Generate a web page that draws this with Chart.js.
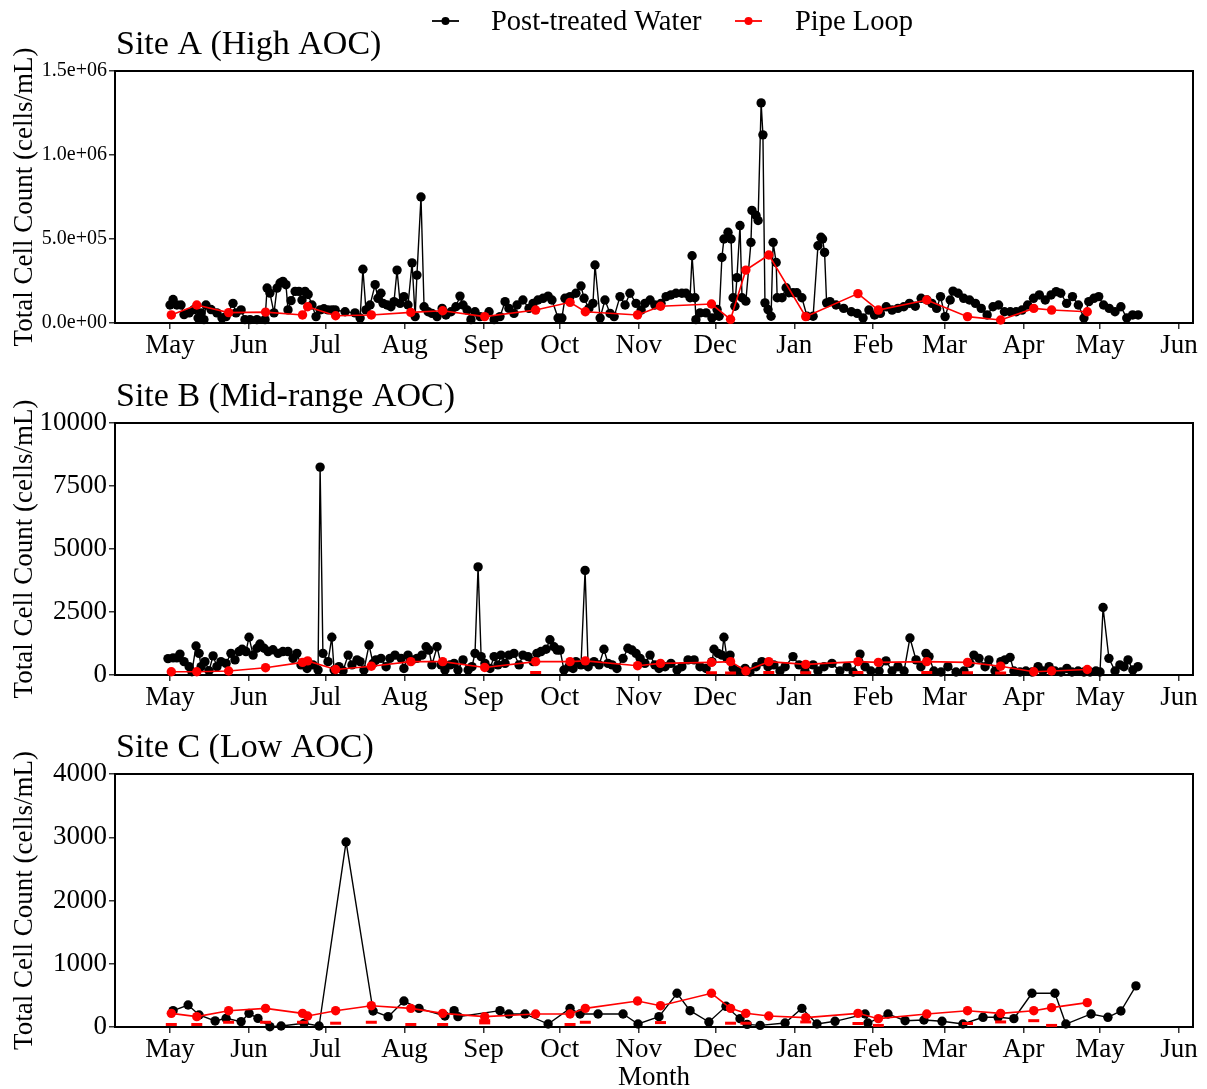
<!DOCTYPE html>
<html>
<head>
<meta charset="utf-8">
<script src="https://cdn.jsdelivr.net/npm/chart.js@4.4.1/dist/chart.umd.min.js"></script>
<style>
  body { margin: 0; background: #fff; }
  #wrap { position: relative; width: 1207px; height: 1089px; }
  canvas { position: absolute; left: 0; }
</style>
</head>
<body>
<div id="wrap">
  <canvas id="siteA" width="1207" height="362" style="top:0"></canvas>
  <canvas id="siteB" width="1207" height="353" style="top:362px"></canvas>
  <canvas id="siteC" width="1207" height="374" style="top:715px"></canvas>
</div>
<script>
// x values are days counted from 1 May
const monthDays = [0, 31, 61, 92, 123, 153, 184, 214, 245, 276, 304, 335, 365, 396];
const monthLabels = ["May", "Jun", "Jul", "Aug", "Sep", "Oct", "Nov", "Dec", "Jan", "Feb", "Mar", "Apr", "May", "Jun"];

// pipe loop sampling days (same for every site)
const loopDays = [0.5, 10.5, 23, 37.5, 52, 54, 65, 79, 94.5, 107, 123.5, 143.5, 157, 163, 183.5, 192.5,
  212.5, 220, 226, 235, 249.5, 270, 278, 297, 313, 326, 339, 346, 360];
const siteALoop = [48e3, 107e3, 62e3, 65e3, 48e3, 97e3, 43e3, 48e3, 63e3, 73e3, 38e3, 77e3, 123e3, 67e3, 48e3, 100e3,
  113e3, 22e3, 315e3, 405e3, 38e3, 175e3, 77e3, 137e3, 38e3, 18e3, 87e3, 77e3, 67e3];
const siteBLoop = [130, 130, 160, 290, 500, 560, 220, 350, 530, 530, 300, 530, 530, 560, 370, 460,
  500, 530, 160, 530, 420, 530, 500, 530, 500, 350, 130, 160, 220];
const siteCLoop = [216, 164, 258, 295, 216, 174, 258, 337, 295, 216, 164, 206, 206, 295, 411, 337,
  533, 295, 216, 174, 148, 216, 132, 206, 258, 216, 258, 306, 385];

// lower pipe loop marks near zero
const siteBLoopLow = [[143.5, 100], [212.5, 90], [220, 80], [235, 100], [249.5, 90], [270, 100], [297, 100], [313, 90], [326, 80]];
const siteCLoopLow = [[0.5, 40], [10.5, 40], [23, 75], [37.5, 75], [52, 75], [65, 60], [79, 75], [94.5, 40], [107, 40],
  [123.5, 65], [123.5, 100], [157, 40], [163, 75], [192.5, 70], [220, 60], [226, 60], [249.5, 80], [270, 55], [278, 25],
  [313, 55], [326, 80], [339, 100], [346, 25]];

// post-treated water, [day, cells/mL]
const siteAWater = [
  [0, 107e3], [1.2, 140e3], [2.7, 107e3], [4.3, 107e3], [5.5, 50e3], [7.5, 60e3], [9.4, 80e3], [11, 30e3], [12.2, 60e3],
  [13.3, 20e3], [14.1, 107e3], [16.1, 80e3], [18.4, 60e3], [20.4, 30e3], [22, 38e3], [24.7, 117e3], [25.9, 60e3],
  [27.9, 78e3], [29.4, 20e3], [31.4, 20e3], [34.1, 20e3], [37.3, 20e3], [38.1, 208e3], [39.2, 178e3], [40.8, 60e3],
  [42, 208e3], [43.2, 238e3], [44.3, 248e3], [45.5, 228e3], [46.3, 78e3], [47.5, 133e3], [49.1, 188e3], [50.6, 188e3],
  [51.8, 137e3], [53, 188e3], [54.2, 170e3], [55.7, 107e3], [57.3, 38e3], [58.9, 78e3], [60.4, 85e3], [62, 78e3],
  [63.6, 78e3], [64.8, 78e3], [68.7, 67e3], [72.6, 60e3], [74.6, 30e3], [75.7, 320e3], [76.9, 78e3], [78.5, 107e3],
  [80.5, 228e3], [81.6, 147e3], [82.8, 177e3], [83.6, 117e3], [85.2, 107e3], [86.7, 97e3], [87.9, 127e3], [89.1, 315e3],
  [90.3, 117e3], [91.8, 157e3], [93.4, 107e3], [95, 358e3], [96.2, 38e3], [96.9, 285e3], [98.5, 750e3], [99.7, 97e3],
  [101.3, 67e3], [102.8, 57e3], [104.8, 38e3], [106.8, 87e3], [108.3, 48e3], [110.3, 67e3], [112.2, 97e3], [113.8, 160e3],
  [115, 107e3], [116.6, 77e3], [118.1, 20e3], [119.7, 67e3], [121.7, 38e3], [125.2, 67e3], [127.2, 20e3], [129.5, 38e3],
  [131.5, 127e3], [133, 87e3], [135, 57e3], [136.2, 107e3], [138.5, 137e3], [140.9, 87e3], [142.5, 117e3], [144.4, 137e3],
  [146.4, 147e3], [148.4, 160e3], [149.9, 137e3], [152.3, 30e3], [153.8, 30e3], [155, 147e3], [157, 157e3], [159.3, 177e3],
  [161.3, 220e3], [162.5, 147e3], [164.4, 87e3], [166, 117e3], [166.8, 345e3], [168.8, 30e3], [170.7, 137e3], [172.7, 57e3],
  [174.3, 38e3], [176.6, 157e3], [178.6, 107e3], [180.5, 177e3], [182.9, 117e3], [184.9, 77e3], [186.4, 117e3],
  [188.4, 137e3], [190.3, 107e3], [192.7, 117e3], [194.7, 157e3], [196.6, 167e3], [198.6, 177e3], [200.9, 177e3],
  [202.5, 177e3], [204.1, 150e3], [204.9, 400e3], [206, 150e3], [206.4, 20e3], [208, 60e3], [210.4, 60e3], [212.7, 30e3],
  [214.7, 80e3], [215.5, 40e3], [216.6, 390e3], [217.4, 500e3], [219, 540e3], [220.2, 500e3], [221, 150e3], [221.7, 100e3],
  [222.5, 270e3], [223.7, 580e3], [224.5, 150e3], [226, 130e3], [228, 480e3], [228.4, 670e3], [230, 640e3], [230.8, 610e3],
  [232, 1310e3], [232.7, 1120e3], [233.5, 120e3], [234.7, 80e3], [235.9, 40e3], [236.7, 480e3], [237.9, 360e3],
  [238.3, 150e3], [240.2, 150e3], [241.8, 210e3], [242.9, 180e3], [244.5, 180e3], [246, 180e3], [248, 150e3], [250, 40e3],
  [252.4, 40e3], [254.3, 460e3], [255.5, 510e3], [256.1, 500e3], [256.9, 420e3], [257.7, 120e3], [259, 127e3],
  [261.4, 107e3], [264.4, 87e3], [267.4, 67e3], [269.7, 57e3], [272, 30e3], [274.3, 77e3], [276.5, 48e3], [278.8, 57e3],
  [281.1, 97e3], [283.4, 77e3], [285.7, 87e3], [288, 97e3], [290.2, 117e3], [292.5, 100e3], [294.8, 147e3], [297.1, 137e3],
  [299, 117e3], [300.9, 87e3], [302.4, 157e3], [304.2, 38e3], [306.2, 137e3], [307.3, 190e3], [309.3, 177e3],
  [311.5, 147e3], [313.8, 137e3], [316.1, 117e3], [318.4, 87e3], [320.7, 48e3], [323, 97e3], [325.2, 107e3], [327.5, 67e3],
  [329.8, 67e3], [332.1, 67e3], [334.4, 77e3], [336.6, 107e3], [338.9, 147e3], [341.2, 167e3], [343.5, 137e3],
  [345.8, 167e3], [347.8, 187e3], [349.6, 177e3], [351.9, 117e3], [354.2, 157e3], [356.5, 107e3], [358.7, 30e3],
  [360.6, 127e3], [362.6, 147e3], [364.5, 157e3], [366.4, 107e3], [368.6, 87e3], [370.9, 67e3], [373.2, 97e3],
  [375.5, 30e3], [377.8, 48e3], [380, 48e3]
];

const siteBWater = [
  [-0.8, 650], [1.2, 680], [2.7, 680], [3.9, 830], [5.5, 530], [7.5, 330], [8.6, 130], [10.2, 1150], [11.4, 860], [12.2, 330],
  [13.7, 530], [15.3, 170], [16.9, 760], [18.4, 330], [20, 530], [22, 460], [23.9, 860], [25.5, 600], [27.1, 930],
  [28.3, 1020], [29.8, 930], [31, 1500], [32.6, 790], [34.1, 1060], [35.3, 1230], [36.9, 1060], [38.5, 930], [40.4, 1000],
  [42.4, 860], [44.3, 930], [46.3, 930], [48.3, 660], [49.8, 860], [51.4, 400], [53.8, 260], [56.1, 400], [58.1, 200],
  [58.9, 8250], [60, 860], [62, 530], [63.5, 1500], [64.4, 200], [66.3, 330], [67.9, 170], [69.9, 790], [71.4, 400],
  [73.4, 600], [74.6, 530], [76.1, 200], [78.1, 1190], [79.7, 460], [80.8, 600], [82.8, 660], [84.8, 330], [86.3, 660],
  [88.3, 790], [90.7, 660], [91.8, 260], [93.4, 790], [95, 600], [96.9, 660], [98.9, 790], [100.5, 1120], [101.6, 990],
  [102.8, 400], [104.8, 1120], [106.4, 400], [107.9, 200], [109.9, 400], [111.5, 460], [113, 200], [115, 600], [117, 200],
  [118.5, 330], [119.7, 860], [120.9, 4290], [122.1, 730], [123.6, 460], [125.6, 260], [127.2, 730], [128.7, 400],
  [129.9, 790], [131.5, 460], [133, 790], [135, 860], [137, 400], [138.5, 790], [140.5, 730], [142.5, 530], [144, 860],
  [145.6, 930], [147.6, 1020], [149.1, 1400], [150.7, 1120], [151.9, 990], [153.1, 990], [154.6, 200], [156.6, 330],
  [158.2, 260], [159.3, 530], [161.3, 400], [162.9, 4150], [164.1, 330], [166.4, 530], [168.4, 400], [170.3, 1020],
  [171.9, 460], [173.5, 400], [175.4, 260], [177.8, 660], [179.7, 1060], [181.3, 990], [182.9, 860], [184.5, 660],
  [186.4, 460], [188.4, 790], [190.3, 400], [191.9, 260], [194.3, 330], [196.6, 460], [199, 200], [200.9, 330], [203.3, 600],
  [205.7, 600], [208, 330], [210.4, 260], [212.7, 530], [213.5, 1020], [215.1, 860], [216.6, 790], [217.4, 1500],
  [218.6, 660], [219.8, 790], [221, 260], [223.3, 150], [225.7, 260], [227.6, 120], [230, 330], [232.3, 530], [234.7, 330],
  [237, 400], [239.4, 160], [241.4, 330], [244.5, 730], [246.9, 400], [249.2, 160], [252.4, 400], [254.3, 160],
  [256.7, 330], [259.8, 460], [262.9, 160], [265.7, 330], [268.1, 120], [270.8, 830], [272.8, 330], [275.1, 160],
  [278.3, 160], [281, 560], [283.4, 160], [285.7, 330], [288.1, 160], [290.4, 1470], [292.8, 600], [294.7, 330],
  [296.7, 860], [297.9, 730], [299.8, 160], [302.6, 120], [305.3, 330], [308.5, 120], [311.6, 160], [314, 460],
  [315.5, 790], [317.5, 660], [319.9, 330], [321.4, 600], [323.8, 160], [326.1, 530], [327.7, 600], [329.7, 700],
  [331.2, 160], [333.6, 120], [335.9, 160], [338.3, 120], [340.7, 330], [342.6, 160], [345, 330], [347.3, 160],
  [349.7, 120], [352, 260], [354, 120], [356.4, 160], [358.7, 120], [361.1, 120], [363.4, 160], [365, 120], [366.2, 2680],
  [368.5, 660], [370.9, 160], [372.8, 400], [374.4, 330], [376, 600], [377.9, 200], [379.9, 330]
];

const siteCWater = [
  [1.2, 258], [7.1, 348], [11.4, 190], [17.7, 96], [22, 137], [27.9, 85], [31, 216], [34.5, 137], [39.2, 5], [43.6, 16],
  [52.6, 58], [58.5, 16], [69.1, 2925], [79.7, 253], [85.6, 164], [91.8, 411], [97.7, 295], [107.9, 174], [111.5, 258],
  [113, 164], [129.5, 258], [133, 206], [139.3, 206], [148.4, 47], [157, 295], [160.9, 206], [168, 206], [177.8, 206],
  [183.7, 47], [191.9, 164], [199, 533], [204.1, 258], [211.5, 79], [218.2, 327], [223.7, 132], [226.5, 42], [231.6, 26],
  [241.4, 63], [248, 295], [253.9, 47], [261, 90], [272.8, 206], [273.9, 63], [281.8, 206], [288.5, 100], [295.9, 111],
  [303, 90], [311.2, 47], [319.1, 153], [325, 153], [331.2, 132], [338.3, 533], [347.3, 533], [351.6, 47], [361.5, 206],
  [368.1, 153], [373.2, 253], [379.1, 650]
];

const FONT = "'Liberation Serif', 'Times New Roman', serif";
const toXY = pairs => pairs.map(([x, y]) => ({ x, y }));

// panel title, legend and the box around each plot
const panelDecor = {
  id: "panelDecor",
  beforeDatasetsDraw(chart, args, opts) {
    const { ctx, chartArea: a } = chart;
    ctx.save();
    ctx.strokeStyle = "#000";
    ctx.lineWidth = 2;
    ctx.strokeRect(a.left, a.top, a.right - a.left, a.bottom - a.top);
    ctx.restore();
  },
  afterDraw(chart, args, opts) {
    const { ctx, chartArea: a } = chart;
    ctx.save();
    ctx.fillStyle = "#000";
    ctx.font = "34px " + FONT;
    ctx.textBaseline = "alphabetic";
    ctx.fillText(opts.title, a.left + 1, a.top - 17);
    if (opts.legend) {
      const items = [["#000", "Post-treated Water", 432, 491], ["#ff0000", "Pipe Loop", 735, 795]];
      ctx.font = "28.5px " + FONT;
      ctx.textBaseline = "middle";
      for (const [col, label, x0, tx] of items) {
        ctx.strokeStyle = col;
        ctx.fillStyle = col;
        ctx.lineWidth = 1.8;
        ctx.beginPath();
        ctx.moveTo(x0, 21);
        ctx.lineTo(x0 + 27, 21);
        ctx.stroke();
        ctx.beginPath();
        ctx.arc(x0 + 13.5, 21, 4, 0, Math.PI * 2);
        ctx.fill();
        ctx.fillStyle = "#000";
        ctx.fillText(label, tx, 23);
      }
    }
    ctx.restore();
  }
};

function makePanel(id, cfg) {
  const datasets = [
    {
      label: "Pipe Loop",
      data: loopDays.map((d, i) => ({ x: d, y: cfg.loop[i] })),
      borderColor: "#ff0000", backgroundColor: "#ff0000",
      borderWidth: 1.6, pointRadius: 4.7, pointBorderWidth: 0, order: 1
    },
    {
      label: "Post-treated Water",
      data: toXY(cfg.water),
      borderColor: "#000", backgroundColor: "#000",
      borderWidth: 1.4, pointRadius: 4.7, pointBorderWidth: 0, order: 2
    }
  ];
  if (cfg.low) {
    datasets.push({
      label: "Pipe Loop (low)",
      data: toXY(cfg.low),
      showLine: false, pointStyle: "line", pointRadius: 5.5,
      borderColor: "#ff0000", pointBorderWidth: 3, order: 0
    });
  }
  return new Chart(document.getElementById(id), {
    type: "line",
    data: { datasets },
    plugins: [panelDecor],
    options: {
      responsive: false,
      animation: false,
      clip: false,
      layout: { padding: { top: cfg.top, right: 14, left: 0, bottom: 0 } },
      plugins: {
        legend: { display: false },
        tooltip: { enabled: false },
        panelDecor: { title: cfg.title, legend: cfg.legend }
      },
      scales: {
        x: {
          type: "linear", min: -21.6, max: 401.5,
          afterBuildTicks: s => { s.ticks = monthDays.map(v => ({ value: v })); },
          afterFit: s => { s.height = cfg.xHeight; },
          ticks: {
            autoSkip: false, maxRotation: 0, padding: 1, color: "#000",
            font: { family: FONT, size: 27 },
            callback: v => monthLabels[monthDays.indexOf(v)]
          },
          grid: { drawOnChartArea: false, drawTicks: true, tickLength: 6, color: "#333", lineWidth: 1.5 },
          border: { display: true, color: "#000", width: 2 },
          title: {
            display: !!cfg.xTitle, text: cfg.xTitle || "", color: "#000",
            font: { family: FONT, size: 27 }, padding: { top: 0, bottom: -5 }
          }
        },
        y: {
          min: 0, max: cfg.yMax,
          afterFit: s => { s.width = 115; },
          ticks: {
            stepSize: cfg.yStep, padding: 2, color: "#000",
            font: { family: FONT, size: cfg.yFont },
            callback: cfg.yFormat
          },
          grid: { drawOnChartArea: false, drawTicks: true, tickLength: 6, color: "#333", lineWidth: 1.5 },
          border: { display: true, color: "#000", width: 2 },
          title: {
            display: true, text: "Total Cell Count (cells/mL)", color: "#000",
            font: { family: FONT, size: 27 }, padding: { top: 9, bottom: 0 }
          }
        }
      }
    }
  });
}

const sci = v => v.toExponential(1).replace(/e\+(\d)$/, "e+0$1");

makePanel("siteA", {
  title: "Site A (High AOC)", legend: true, top: 71, xHeight: 39,
  loop: siteALoop, water: siteAWater,
  yMax: 1.5e6, yStep: 5e5, yFont: 20, yFormat: sci
});
makePanel("siteB", {
  title: "Site B (Mid-range AOC)", top: 61, xHeight: 40,
  loop: siteBLoop, water: siteBWater, low: siteBLoopLow,
  yMax: 10000, yStep: 2500, yFont: 27, yFormat: v => String(v)
});
makePanel("siteC", {
  title: "Site C (Low AOC)", top: 59, xHeight: 62, xTitle: "Month",
  loop: siteCLoop, water: siteCWater, low: siteCLoopLow,
  yMax: 4000, yStep: 1000, yFont: 27, yFormat: v => String(v)
});
</script>
</body>
</html>
